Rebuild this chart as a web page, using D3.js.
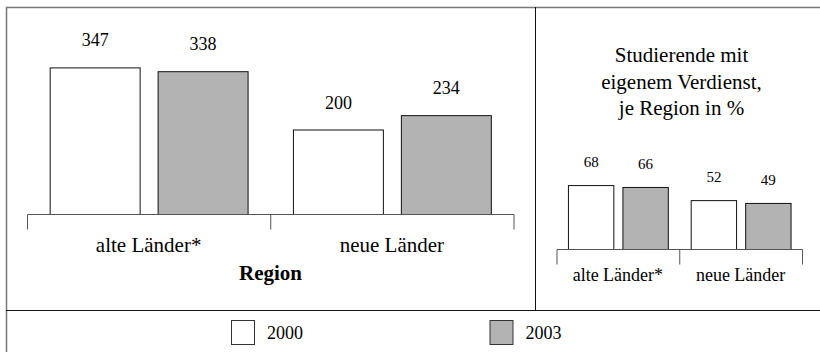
<!DOCTYPE html>
<html>
<head>
<meta charset="utf-8">
<script src="https://cdn.jsdelivr.net/npm/d3@7"></script>
<style>
  body { margin: 0; background: #fff; }
  #chart text { font-family: "Liberation Serif", Tinos, "Times New Roman", serif !important; }
</style>
</head>
<body>
<svg id="chart" width="820" height="352"></svg>
<script>
// data
const regions = ['alte Länder*', 'neue Länder'];
const years = ['2000', '2003'];
const studierende = [[347, 338], [200, 234]];       // per region: 2000, 2003
const verdienstPct = [[68, 66], [52, 49]];          // per region: 2000, 2003
const subTitle = ['Studierende mit', 'eigenem Verdienst,', 'je Region in %'];
const axisTitle = 'Region';

const colors = { '2000': '#ffffff', '2003': '#b3b3b3' };
const FONT = '"Liberation Serif", Tinos, "Times New Roman", serif';

const svg = d3.select('#chart');

// frame
svg.append('path')
    .attr('d', 'M6.5,352 V7.5 H820')
    .attr('fill', 'none')
    .attr('stroke', '#777')
    .attr('stroke-width', 1.5);
svg.append('line')
    .attr('x1', 6).attr('x2', 820).attr('y1', 310.5).attr('y2', 310.5)
    .attr('stroke', '#111').attr('stroke-width', 1.2);
svg.append('line')
    .attr('x1', 535.5).attr('x2', 535.5).attr('y1', 7).attr('y2', 310)
    .attr('stroke', '#111').attr('stroke-width', 1);

function drawGroupChart(opts) {
    const x0 = d3.scaleBand()
        .domain(regions)
        .range([opts.left, opts.right]);

    const x1 = d3.scaleBand()
        .domain(years)
        .range([0, x0.bandwidth()])
        .paddingInner(1 / 6)
        .paddingOuter(0.21);

    const y = d3.scaleLinear()
        .domain([0, opts.max])
        .range([opts.base, opts.base - opts.pxPerUnit * opts.max]);

    const g = svg.append('g');

    const group = g.selectAll('.grp')
        .data(regions)
        .join('g')
        .attr('class', 'grp')
        .attr('transform', d => `translate(${x0(d)},0)`);

    const cells = group.selectAll('g.cell')
        .data((d, i) => years.map((yr, j) => ({ yr, v: opts.values[i][j] })))
        .join('g')
        .attr('class', 'cell');

    cells.append('rect')
        .attr('x', d => x1(d.yr) + 0.5)
        .attr('y', d => y(d.v) + 0.5)
        .attr('width', x1.bandwidth())
        .attr('height', d => y(0) - y(d.v))
        .attr('fill', d => colors[d.yr])
        .attr('stroke', '#111')
        .attr('stroke-width', 1);

    cells.append('text')
        .attr('x', d => x1(d.yr) + x1.bandwidth() / 2 + 0.5)
        .attr('y', d => y(d.v) - opts.labelGap)
        .attr('text-anchor', 'middle')
        .style('font-family', FONT)
        .style('font-size', opts.valueSize + 'px')
        .text(d => d.v);

    // axis with ticks at band boundaries
    const edges = regions.map(r => x0(r)).concat([opts.right]);
    const tickLen = 15;
    g.append('path')
        .attr('d', `M${opts.left + 0.5},${y(0) + 0.5}H${opts.right + 0.5}` +
            edges.map(e => `M${e + 0.5},${y(0) + 0.5}v${tickLen}`).join(''))
        .attr('fill', 'none')
        .attr('stroke', '#555')
        .attr('stroke-width', 1);

    g.selectAll('.cat')
        .data(regions)
        .join('text')
        .attr('class', 'cat')
        .attr('x', d => x0(d) + x0.bandwidth() / 2)
        .attr('y', opts.catY)
        .attr('text-anchor', 'middle')
        .style('font-family', FONT)
        .style('font-size', opts.catSize + 'px')
        .text(d => d);

    return { x0, y };
}

// main chart
drawGroupChart({
    left: 27, right: 513.5, base: 214, max: 400, pxPerUnit: 0.4225,
    values: studierende, valueSize: 18, labelGap: 21,
    catY: 252, catSize: 21
});

svg.append('text')
    .attr('x', 270.5)
    .attr('y', 280)
    .attr('text-anchor', 'middle')
    .style('font-family', FONT)
    .style('font-size', '21px')
    .style('font-weight', 'bold')
    .text(axisTitle);

// small chart
drawGroupChart({
    left: 556.5, right: 802, base: 249, max: 100, pxPerUnit: 0.94,
    values: verdienstPct, valueSize: 15, labelGap: 18,
    catY: 281, catSize: 18
});

svg.append('g')
    .selectAll('text')
    .data(subTitle)
    .join('text')
    .attr('x', 681.5)
    .attr('y', (d, i) => 62 + i * 26.5)
    .attr('text-anchor', 'middle')
    .style('font-family', FONT)
    .style('font-size', '21px')
    .text(d => d);

// legend
const legend = svg.append('g')
    .selectAll('g')
    .data(years)
    .join('g')
    .attr('transform', (d, i) => `translate(${231 + i * 258.5},320)`);

legend.append('rect')
    .attr('x', 0.5).attr('y', 0.5)
    .attr('width', 23).attr('height', 24)
    .attr('fill', d => colors[d])
    .attr('stroke', '#333')
    .attr('stroke-width', 1);

legend.append('text')
    .attr('x', 36)
    .attr('y', 18.5)
    .style('font-family', FONT)
    .style('font-size', '18px')
    .text(d => d);
</script>
</body>
</html>
